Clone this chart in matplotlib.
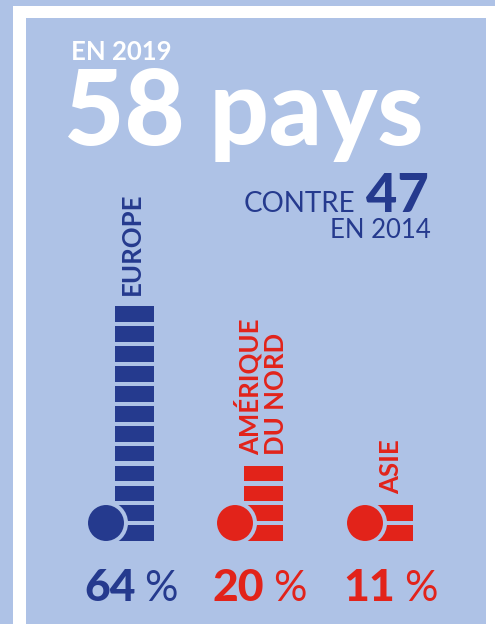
import matplotlib
matplotlib.use("Agg")
import matplotlib.pyplot as plt
from matplotlib.patches import Rectangle, Circle

# ---- data ----
regions = ["EUROPE", "AMÉRIQUE\nDU NORD", "ASIE"]
shares = [64, 20, 11]          # percent of countries
blocks = [12, 4, 2]            # number of stacked blocks drawn
year_now = 2019
countries_now = 58
year_before = 2014
countries_before = 47

# ---- style ----
BG = "#aec2e6"
DARK = "#253a8e"
RED = "#e2231a"
region_colors = [DARK, RED, RED]
FONT = "Lato"

W, H = 495, 624
fig = plt.figure(figsize=(W / 100, H / 100), dpi=100)
fig.patch.set_facecolor(BG)
ax = fig.add_axes([0, 0, 1, 1])
ax.set_xlim(0, W)
ax.set_ylim(H, 0)
ax.set_aspect("equal")
ax.axis("off")

# frame
ax.add_patch(Rectangle((13, 6), W - 13, H - 6, facecolor="white", edgecolor="none", zorder=0))
ax.add_patch(Rectangle((26, 18), 486 - 26, H - 18, facecolor=BG, edgecolor="none", zorder=0))

# headline
ax.text(71, 60, f"EN {year_now}", color="white", fontsize=18.5, fontweight="bold",
        family=FONT, ha="left", va="baseline")
ax.text(64, 145, f"{countries_now} pays", color="white", fontsize=75, fontweight="black",
        family=FONT, ha="left", va="baseline")

renderer = fig.canvas.get_renderer()
t47 = ax.text(429, 212, f"{countries_before}", color=DARK, fontsize=39, fontweight="black",
              family=FONT, ha="right", va="baseline")
w47 = t47.get_window_extent(renderer).width
ax.text(429 - w47 - 11, 212, "CONTRE", color=DARK, fontsize=20, fontweight="normal",
        family=FONT, ha="right", va="baseline")
ax.text(431, 238, f"EN {year_before}", color=DARK, fontsize=18.5, fontweight="normal",
        family=FONT, ha="right", va="baseline")

# columns
centers = [134, 263, 393]
base = 541
pitch = 19.9
bh = 15.7
bw = 39
circle_dx = -28
circle_y = 523

for cx, n, col, lab, pct in zip(centers, blocks, region_colors, regions, shares):
    bottoms = [base - k * pitch - bh for k in range(n)]
    ax.bar([cx] * n, [bh] * n, bottom=bottoms, width=bw, color=col, edgecolor="none", zorder=2)
    ax.add_patch(Circle((cx + circle_dx, circle_y), 20, facecolor=col, edgecolor=BG,
                        linewidth=2.9, zorder=3))
    top = base - (n - 1) * pitch - bh
    ax.text(cx - 2, top - 11, lab, color=col, fontsize=18.5, fontweight="bold", family=FONT,
            rotation=90, ha="center", va="bottom", multialignment="left", linespacing=1.1)
    # percentage label: bold number + regular percent sign
    tn = ax.text(0, 601, f"{pct}", color=col, fontsize=32, fontweight="black", family=FONT,
                 ha="right", va="baseline")
    tp = ax.text(0, 601, "%", color=col, fontsize=30, fontweight="normal", family=FONT,
                 ha="left", va="baseline")
    wn = tn.get_window_extent(renderer).width
    wp = tp.get_window_extent(renderer).width
    gap = 9
    left = cx - 3 - (wn + gap + wp) / 2
    tn.set_x(left + wn)
    tp.set_x(left + wn + gap)

fig.savefig("out.png", dpi=100, facecolor=BG)
